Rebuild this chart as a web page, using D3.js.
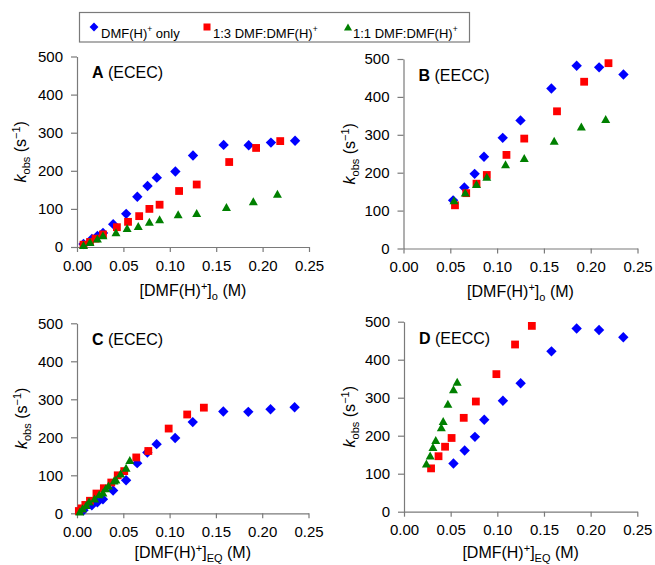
<!DOCTYPE html>
<html>
<head>
<meta charset="utf-8">
<script src="https://cdn.jsdelivr.net/npm/d3@7"></script>
<style>
  body { margin: 0; background: #fff; }
  svg { display: block; font-family: Arial, "Liberation Sans", sans-serif; }
</style>
</head>
<body>
<svg id="chart" width="655" height="565"></svg>
<script>
// ---- Data: concentrations in M, observed rate constants in s^-1 ----
// DMF(H)+ only: initial and equilibrium concentrations coincide
const blueConc  = [0.007, 0.016, 0.022, 0.028, 0.039, 0.053, 0.065, 0.076, 0.086, 0.106, 0.125, 0.158, 0.185, 0.209, 0.235];
const blueKEcec = [8, 21, 29, 37, 60, 87, 132, 160, 182, 198, 240, 268, 267, 274, 279];
const blueKEecc = [null, null, null, null, null, 127, 161, 197, 242, 292, 338, 422, 482, 478, 459];

// 1:3 DMF:DMF(H)+
const redConcO  = [0.007, 0.014, 0.020, 0.028, 0.043, 0.055, 0.067, 0.078, 0.089, 0.110, 0.129, 0.164, 0.193, 0.219];
const redConcEq = [0.002, 0.005, 0.009, 0.014, 0.021, 0.029, 0.037, 0.044, 0.051, 0.064, 0.077, 0.099, 0.119, 0.137];
const redKEcec  = [6, 13, 22, 33, 52, 66, 81, 100, 111, 147, 164, 223, 260, 278];
const redKEecc  = [null, null, null, null, null, 114, 146, 171, 194, 247, 290, 362, 440, 489];

// 1:1 DMF:DMF(H)+
const greenConcO  = [0.007, 0.014, 0.022, 0.028, 0.042, 0.054, 0.066, 0.078, 0.089, 0.109, 0.129, 0.161, 0.190, 0.216];
const greenConcEq = [0.003, 0.006, 0.010, 0.013, 0.019, 0.024, 0.028, 0.031, 0.034, 0.040, 0.042, 0.047, 0.053, 0.057];
const greenKEcec  = [5, 13, 22, 31, 39, 50, 55, 66, 73, 86, 89, 105, 120, 140];
const greenKEecc  = [null, null, null, null, null, 127, 148, 170, 189, 222, 239, 284, 322, 342];

// Axis ticks
const xTicks = [0, 0.05, 0.10, 0.15, 0.20, 0.25];
const yTicks = [0, 100, 200, 300, 400, 500];

// Series styling
const seriesStyle = [
  { key: "blue",  color: "#0000ff", shape: "diamond",  label: [["DMF(H)", ""], ["+", "sup"], [" only", ""]] },
  { key: "red",   color: "#ff0000", shape: "square",   label: [["1:3 DMF:DMF(H)", ""], ["+", "sup"]] },
  { key: "green", color: "#008000", shape: "triangle", label: [["1:1 DMF:DMF(H)", ""], ["+", "sup"]] }
];

function zip(xs, ys) {
  return xs.map((x, i) => ({ x: x, y: ys[i] })).filter(d => d.y !== null);
}

const panels = [
  { letter: "A", mech: "ECEC", sub: "o",  box: { x: 77,    y: 56.5,  w: 232,   h: 190.5 }, xTitleGap: 49, yTitleX: 26,
    series: [zip(blueConc, blueKEcec), zip(redConcO, redKEcec), zip(greenConcO, greenKEcec)] },
  { letter: "B", mech: "EECC", sub: "o",  box: { x: 403.5, y: 59,    w: 234,   h: 189.5 }, xTitleGap: 48.5, yTitleX: 355,
    series: [zip(blueConc, blueKEecc), zip(redConcO, redKEecc), zip(greenConcO, greenKEecc)] },
  { letter: "C", mech: "ECEC", sub: "EQ", box: { x: 77,    y: 323.3, w: 231.5, h: 190 },   xTitleGap: 45, yTitleX: 27,
    series: [zip(blueConc, blueKEcec), zip(redConcEq, redKEcec), zip(greenConcEq, greenKEcec)] },
  { letter: "D", mech: "EECC", sub: "EQ", box: { x: 404,   y: 321.7, w: 233.3, h: 190 },   xTitleGap: 46.5, yTitleX: 355,
    series: [zip(blueConc, blueKEecc), zip(redConcEq, redKEecc), zip(greenConcEq, greenKEecc)] }
];

function markerPath(shape) {
  if (shape === "diamond") { const r = 5.2; return `M0,${-r}L${r},0L0,${r}L${-r},0Z`; }
  if (shape === "square")  { const s = 3.9; return `M${-s},${-s}H${s}V${s}H${-s}Z`; }
  const w = 4.5, h = 4; return `M0,${-h}L${w},${h}L${-w},${h}Z`;
}

const svg = d3.select("#chart");
const axisColor = "#7a7a7a";

panels.forEach(p => {
  const b = p.box;
  const x = d3.scaleLinear().domain([0, 0.25]).range([b.x, b.x + b.w]);
  const y = d3.scaleLinear().domain([0, 500]).range([b.y + b.h, b.y]);
  const g = svg.append("g");

  // y axis
  const ya = g.append("g").attr("transform", `translate(${b.x},0)`)
    .call(d3.axisLeft(y).tickValues(yTicks).tickSize(6).tickSizeOuter(0).tickPadding(8).tickFormat(d3.format("d")));
  // x axis
  const xa = g.append("g").attr("transform", `translate(0,${b.y + b.h})`)
    .call(d3.axisBottom(x).tickValues(xTicks).tickSize(5).tickSizeOuter(0).tickPadding(8).tickFormat(d3.format(".2f")));
  [ya, xa].forEach(a => {
    a.select(".domain").attr("stroke", axisColor).attr("stroke-width", 1.2);
    a.selectAll(".tick line").attr("stroke", axisColor).attr("stroke-width", 1.2);
    a.selectAll(".tick text").attr("fill", "#000").style("font-size", "15px").style("font-family", "Arial, 'Liberation Sans', sans-serif");
  });

  // data markers, drawn in series order
  p.series.forEach((data, i) => {
    const st = seriesStyle[i];
    g.append("g").selectAll("path").data(data).join("path")
      .attr("d", markerPath(st.shape))
      .attr("transform", d => `translate(${x(d.x)},${y(d.y)})`)
      .attr("fill", st.color);
  });

  // panel label
  const t = g.append("text").attr("x", b.x + 15).attr("y", b.y + 21.8).style("font-size", "16px");
  t.append("tspan").attr("font-weight", "bold").text(p.letter);
  t.append("tspan").text(" (" + p.mech + ")");

  // x axis title
  const xt = g.append("text").attr("x", b.x + b.w / 2).attr("y", b.y + b.h + p.xTitleGap)
    .attr("text-anchor", "middle").style("font-size", "16px");
  xt.append("tspan").text("[DMF(H)");
  xt.append("tspan").attr("dy", -6).style("font-size", "11px").text("+");
  xt.append("tspan").attr("dy", 6).text("]");
  xt.append("tspan").attr("dy", 4).style("font-size", "11px").text(p.sub);
  xt.append("tspan").attr("dy", -4).text(" (M)");

  // y axis title
  const cy = b.y + b.h / 2;
  const yt = g.append("text").attr("transform", `translate(${p.yTitleX},${cy}) rotate(-90)`)
    .attr("text-anchor", "middle").style("font-size", "16px");
  yt.append("tspan").attr("font-style", "italic").text("k");
  yt.append("tspan").attr("dy", 4).style("font-size", "11px").text("obs");
  yt.append("tspan").attr("dy", -4).text(" (s");
  yt.append("tspan").attr("dy", -6).style("font-size", "11px").text("\u22121");
  yt.append("tspan").attr("dy", 6).text(")");
});

// legend
const lg = svg.append("g");
lg.append("rect").attr("x", 79.5).attr("y", 12.5).attr("width", 390).attr("height", 29.5)
  .attr("fill", "#fff").attr("stroke", axisColor).attr("stroke-width", 1.2);
const legendPos = [{ mx: 94, tx: 101 }, { mx: 207, tx: 213 }, { mx: 348, tx: 353 }];
seriesStyle.forEach((st, i) => {
  const lp = legendPos[i];
  const scale = st.shape === "diamond" ? 0.85 : 0.9;
  lg.append("path").attr("d", markerPath(st.shape))
    .attr("transform", `translate(${lp.mx},27) scale(${scale})`).attr("fill", st.color);
  const tx = lg.append("text").attr("x", lp.tx).attr("y", 32).style("font-size", "13px");
  st.label.forEach(([txt, kind]) => {
    if (kind === "sup") tx.append("tspan").attr("dy", -5.5).style("font-size", "8.5px").text(txt);
    else tx.append("tspan").attr("dy", tx.selectAll("tspan").size() ? 5.5 : 0).text(txt);
  });
});
</script>
</body>
</html>
